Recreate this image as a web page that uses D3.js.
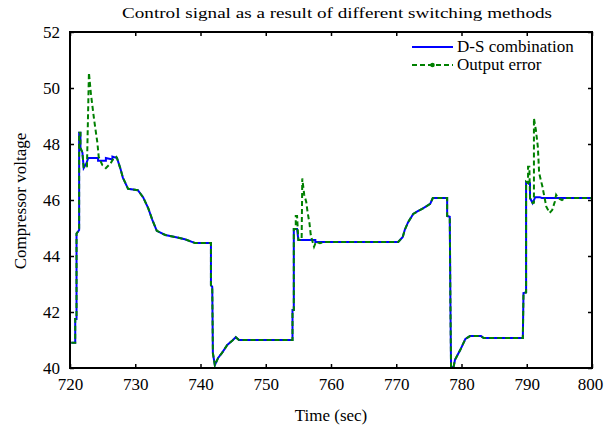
<!DOCTYPE html>
<html><head><meta charset="utf-8">
<script src="https://cdn.jsdelivr.net/npm/d3@7"></script>
<style>body{margin:0;background:#fff}svg{display:block}svg text{font-family:"Liberation Serif","Times New Roman",serif !important}</style>
</head><body>
<svg id="c" width="604" height="428"></svg>
<script>
const titleText = "Control signal as a result of different switching methods";
const xLabel = "Time (sec)";
const yLabel = "Compressor voltage";
const xTicks = [720, 730, 740, 750, 760, 770, 780, 790, 800];
const yTicks = [40, 42, 44, 46, 48, 50, 52];
const seriesNames = ["D-S combination", "Output error"];

// D-S combination: [time, voltage]
const dsCombination = [
 [720.2,40.9],[720.8,40.9],[720.8,41.75],[721.0,41.75],[721.0,44.8],[721.4,44.93],[721.4,48.4],[721.6,48.4],
 [721.6,47.86],[721.9,47.7],[722.1,47.14],[722.5,47.3],[722.8,47.5],[724.3,47.5],[724.3,47.4],[725.5,47.4],
 [725.5,47.5],[726.5,47.45],[726.5,47.55],[727.2,47.5],[727.7,47.14],[728.1,46.8],[728.9,46.4],[730.4,46.35],
 [731.2,46.1],[732.0,45.7],[732.6,45.3],[733.3,44.9],[734.6,44.75],[736.1,44.68],[737.6,44.6],[739.2,44.46],
 [741.6,44.46],[741.6,42.96],[741.8,42.9],[741.9,40.53],[742.2,40.1],[742.7,40.36],[743.3,40.54],[744.1,40.82],
 [744.8,40.96],[745.4,41.1],[745.9,41.0],[754.1,41.0],[754.1,42.07],[754.3,42.07],[754.3,44.96],[754.8,44.96],
 [755.0,44.57],[757.6,44.57],[757.6,44.5],[770.3,44.5],[771.0,44.68],[771.3,44.93],[771.8,45.2],[772.6,45.5],
 [773.3,45.6],[774.1,45.7],[775.2,45.86],[775.6,46.07],[777.8,46.07],[777.8,45.43],[778.2,45.4],[778.3,42.36],
 [778.4,40.0],[778.8,40.05],[779.0,40.29],[779.8,40.64],[780.6,41.04],[781.3,41.14],[783.0,41.14],[783.4,41.07],
 [789.4,41.07],[789.5,42.68],[789.9,42.7],[789.9,46.65],[790.5,46.6],[790.5,46.07],[790.9,45.89],[791.3,46.1],
 [792.0,46.1],[792.3,46.07],[800,46.07]
];

// Output error: [time, voltage]
const outputError = [
 [720.2,40.9],[720.8,40.9],[720.8,41.75],[721.0,41.75],[721.0,44.8],[721.4,44.93],[721.4,48.4],[721.6,48.4],
 [721.6,47.86],[721.9,47.7],[722.1,47.14],[722.6,47.2],[722.9,50.55],[723.2,49.8],[723.7,48.86],[724.2,48.04],
 [724.4,47.54],[724.95,47.25],[725.5,47.14],[726.2,47.3],[726.7,47.5],[727.1,47.54],[727.2,47.5],[727.7,47.14],
 [728.1,46.8],[728.9,46.4],[730.4,46.35],[731.2,46.1],[732.0,45.7],[732.6,45.3],[733.3,44.9],[734.6,44.75],
 [736.1,44.68],[737.6,44.6],[739.2,44.46],[741.6,44.46],[741.6,42.96],[741.8,42.9],[741.9,40.53],[742.2,40.1],
 [742.7,40.36],[743.3,40.54],[744.1,40.82],[744.8,40.96],[745.4,41.1],[745.9,41.0],[754.1,41.0],[754.1,42.07],
 [754.3,42.07],[754.3,44.96],[754.6,44.96],[754.6,45.43],[754.8,45.43],[755.0,44.57],[755.5,44.57],[755.6,46.77],
 [755.9,46.18],[756.2,45.94],[756.4,45.58],[756.7,45.17],[756.9,44.75],[757.1,44.57],[757.4,44.33],[757.7,44.51],
 [758.3,44.46],[759.0,44.5],[770.3,44.5],[771.0,44.68],[771.3,44.93],[771.8,45.2],[772.6,45.5],[773.3,45.6],
 [774.1,45.7],[775.2,45.86],[775.6,46.07],[777.8,46.07],[777.8,45.43],[778.2,45.4],[778.3,42.36],[778.4,40.0],
 [778.8,40.05],[779.0,40.29],[779.8,40.64],[780.6,41.04],[781.3,41.14],[783.0,41.14],[783.4,41.07],[789.4,41.07],
 [789.5,42.68],[789.9,42.7],[789.9,46.65],[790.2,46.6],[790.2,47.19],[790.4,47.19],[790.5,46.07],[790.9,45.89],
 [791.1,45.9],[791.1,48.92],[791.4,48.5],[791.7,47.9],[791.9,46.96],[792.4,46.48],[792.7,46.12],[793.0,45.76],
 [793.5,45.54],[793.9,45.64],[794.3,45.94],[794.5,46.18],[794.8,46.07],[795.4,46.0],[795.9,46.07],[800,46.07]
];

const svg = d3.select("#c");
const L = 70, R = 592, T = 32, B = 368;
const x = d3.scaleLinear().domain([720, 800]).range([L, R]);
const y = d3.scaleLinear().domain([40, 52]).range([B, T]);

svg.append("defs").append("clipPath").attr("id","clip")
  .append("rect").attr("x",L).attr("y",T).attr("width",R-L).attr("height",B-T);

const line = d3.line().x(d => x(d[0])).y(d => y(d[1]));
const g = svg.append("g").attr("clip-path","url(#clip)");
g.append("path").datum(dsCombination).attr("d",line).attr("fill","none")
  .attr("stroke","#0000ff").attr("stroke-width",2);
g.append("path").datum(outputError).attr("d",line).attr("fill","none")
  .attr("stroke","#008000").attr("stroke-width",2).attr("stroke-dasharray","5,3");

// axes
const tk = 4;
const fs = 17;
const ax = svg.append("g");
const axB = ax.append("g").attr("transform",`translate(0,${B})`)
  .call(d3.axisBottom(x).tickValues(xTicks).tickSize(-tk).tickSizeOuter(0).tickPadding(10).tickFormat(d3.format("d")));
const axT = ax.append("g").attr("transform",`translate(0,${T})`)
  .call(d3.axisTop(x).tickValues(xTicks).tickSize(-tk).tickSizeOuter(0).tickFormat(""));
const axL = ax.append("g").attr("transform",`translate(${L},0)`)
  .call(d3.axisLeft(y).tickValues(yTicks).tickSize(-tk).tickSizeOuter(0).tickPadding(10).tickFormat(d3.format("d")));
const axR = ax.append("g").attr("transform",`translate(${R},0)`)
  .call(d3.axisRight(y).tickValues(yTicks).tickSize(-tk).tickSizeOuter(0).tickFormat(""));
[axB, axT, axL, axR].forEach(a => {
  a.attr("font-family", null);
  a.select(".domain").remove();
  a.selectAll(".tick line").attr("stroke","#000").attr("stroke-width",1.5);
  a.selectAll("text").attr("font-size",fs).attr("fill","#000");
});
axB.selectAll("text").filter(d => d === 800).attr("dx", -2);
svg.append("rect").attr("x",L).attr("y",T).attr("width",R-L).attr("height",B-T)
  .attr("fill","none").attr("stroke","#000").attr("stroke-width",2);

// legend
const lg = svg.append("g");
lg.append("line").attr("x1",412).attr("x2",453).attr("y1",47).attr("y2",47)
  .attr("stroke","#0000ff").attr("stroke-width",2);
lg.append("line").attr("x1",412).attr("x2",453).attr("y1",65).attr("y2",65)
  .attr("stroke","#008000").attr("stroke-width",2).attr("stroke-dasharray","5,3");
lg.append("circle").attr("cx",432.5).attr("cy",65).attr("r",2.3).attr("fill","#008000");
lg.selectAll("text.lt").data(seriesNames).enter().append("text")
  .attr("x",457).attr("y",(d,i)=>52+i*18).attr("font-size",fs).text(d=>d);

// labels
svg.append("text").attr("x",337).attr("y",18).attr("text-anchor","middle")
  .attr("font-size",15).attr("textLength",430).attr("lengthAdjust","spacingAndGlyphs").text(titleText);
svg.append("text").attr("x",(L+R)/2).attr("y",421).attr("text-anchor","middle")
  .attr("font-size",fs).text(xLabel);
svg.append("text").attr("transform",`translate(26,${(T+B)/2+1}) rotate(-90)`).attr("text-anchor","middle")
  .attr("font-size",fs).text(yLabel);
</script>
</body></html>
